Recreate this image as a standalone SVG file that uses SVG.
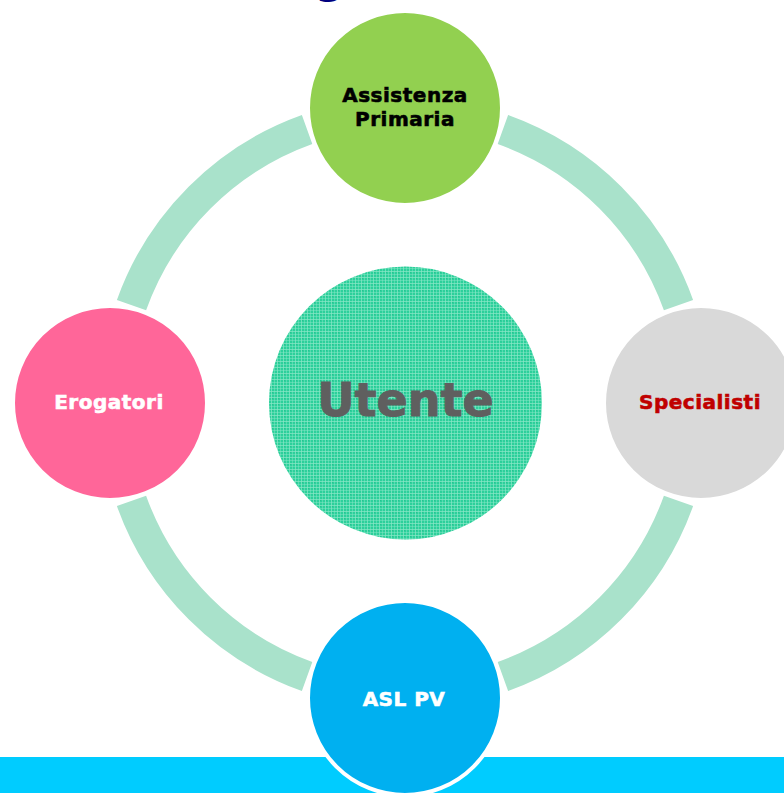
<svg xmlns="http://www.w3.org/2000/svg" width="784" height="793" viewBox="0 0 784 793">
  <style>
    .lbl { font-family: "DejaVu Sans", Verdana, sans-serif; font-weight: bold; font-size: 20px; letter-spacing: 0.5px; text-anchor: middle; stroke-width: 0.6px; }
    .ring { fill: none; stroke: #A9E2CB; stroke-width: 31; stroke-linecap: butt; }
    .node { stroke: #FFFFFF; stroke-width: 4; }
  </style>
  <defs>
    <!-- fine plaid texture for the central disc -->
    <pattern id="plaid" width="6" height="6" patternUnits="userSpaceOnUse">
      <rect width="6" height="6" fill="#2CD09B"/>
      <rect x="1" y="0" width="1" height="6" fill="#8AE8C8" opacity="0.7"/>
      <rect x="4" y="0" width="1" height="6" fill="#8AE8C8" opacity="0.45"/>
      <rect x="0" y="1" width="6" height="1" fill="#8AE8C8" opacity="0.7"/>
      <rect x="0" y="4" width="6" height="1" fill="#8AE8C8" opacity="0.45"/>
      <rect x="2" y="2" width="1" height="1" fill="#1FB888" opacity="0.6"/>
    </pattern>
  </defs>

  <rect width="784" height="793" fill="#FFFFFF"/>

  <!-- heading descender, cut by the top edge -->
  <text x="315" y="-7.5" font-family="DejaVu Sans, Verdana, sans-serif" font-weight="bold" font-size="42" fill="#000080">g</text>

  <!-- bottom band -->
  <rect x="0" y="757" width="784" height="36" fill="#00CCFF"/>

  <!-- cycle arcs -->
  <g id="connectors">
    <path class="ring" d="M 131.5 305.1 A 290.5 290.5 0 0 1 307.1 129.5"/>
    <path class="ring" d="M 502.9 129.5 A 290.5 290.5 0 0 1 678.5 305.1"/>
    <path class="ring" d="M 678.5 500.9 A 290.5 290.5 0 0 1 502.9 676.5"/>
    <path class="ring" d="M 307.1 676.5 A 290.5 290.5 0 0 1 131.5 500.9"/>
  </g>

  <g id="utente">
    <circle cx="405.5" cy="403" r="136.5" fill="url(#plaid)"/>
    <text x="405.5" y="416" font-family="DejaVu Sans, Verdana, sans-serif" font-weight="bold" font-size="46" text-anchor="middle" fill="#5F5F5F" stroke="#5F5F5F" stroke-width="1">Utente</text>
  </g>

  <g id="assistenza-primaria">
    <circle class="node" cx="405" cy="108" r="97" fill="#92D050"/>
    <text class="lbl" x="405" y="102" fill="#000000" stroke="#000000">Assistenza</text>
    <text class="lbl" x="405" y="126" fill="#000000" stroke="#000000">Primaria</text>
  </g>

  <g id="specialisti">
    <circle class="node" cx="701" cy="403" r="97" fill="#D9D9D9"/>
    <text class="lbl" x="700" y="409" fill="#C00000" stroke="#C00000">Specialisti</text>
  </g>

  <g id="asl-pv">
    <circle class="node" cx="405" cy="698" r="97" fill="#00B0F0"/>
    <text class="lbl" x="404" y="706" fill="#FFFFFF" stroke="#FFFFFF">ASL PV</text>
  </g>

  <g id="erogatori">
    <circle class="node" cx="110" cy="403" r="97" fill="#FF6699"/>
    <text class="lbl" x="109" y="409" fill="#FFFFFF" stroke="#FFFFFF">Erogatori</text>
  </g>
</svg>
